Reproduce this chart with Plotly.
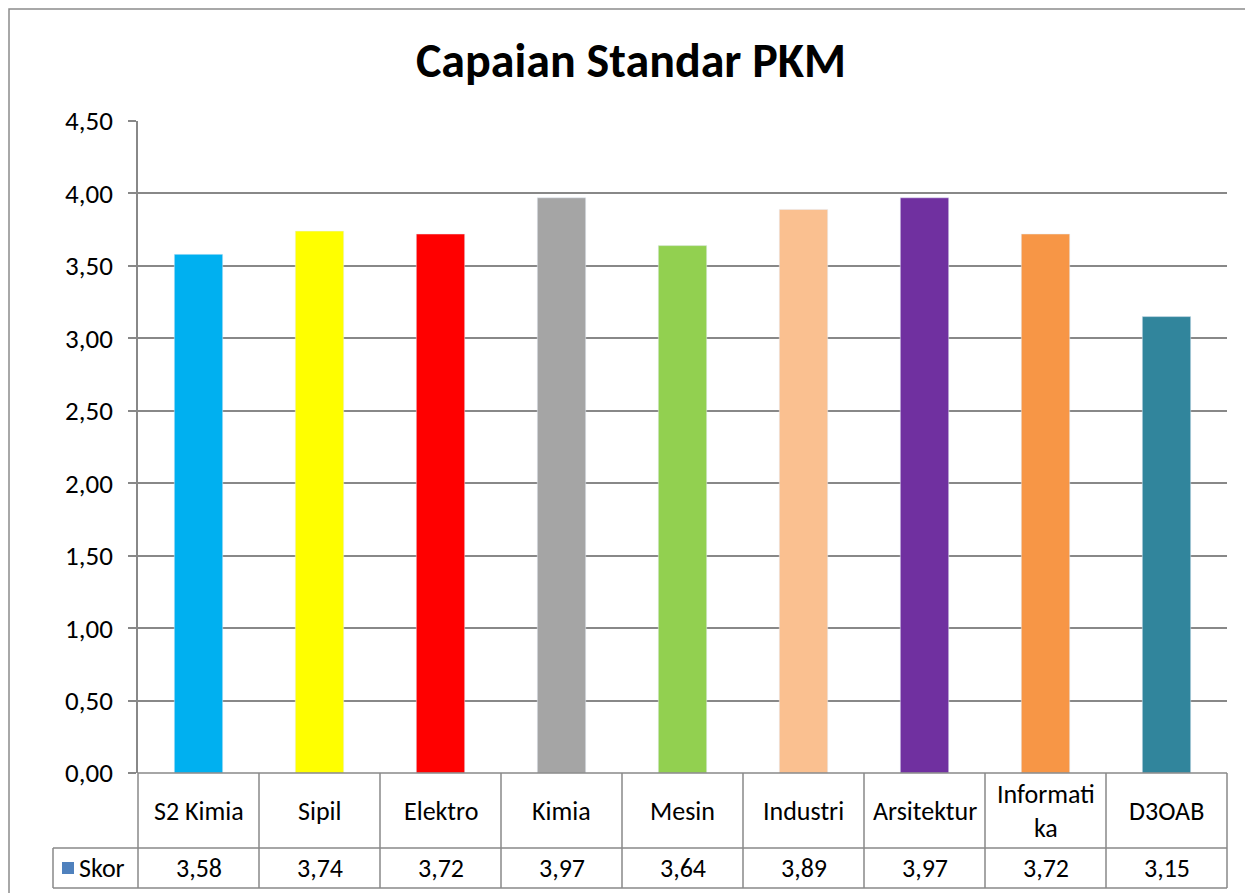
import plotly.graph_objects as go

categories = ["S2 Kimia", "Sipil", "Elektro", "Kimia", "Mesin", "Industri", "Arsitektur", "Informatika", "D3OAB"]
category_labels = ["S2 Kimia", "Sipil", "Elektro", "Kimia", "Mesin", "Industri", "Arsitektur", "Informati<br>ka", "D3OAB"]
skor = [3.58, 3.74, 3.72, 3.97, 3.64, 3.89, 3.97, 3.72, 3.15]
bar_colors = ["#00B0F0", "#FFFF00", "#FF0000", "#A5A5A5", "#92D050", "#FAC090", "#7030A0", "#F79646", "#31859C"]
series_name = "Skor"
y_ticks = [0, 0.5, 1.0, 1.5, 2.0, 2.5, 3.0, 3.5, 4.0, 4.5]

OFF = 8  # page body margin
W, H = 1253 - OFF, 893 - OFF
L, R, T, B = 138 - OFF, 1227 - OFF, 121 - OFF, 773 - OFF
FONT = "Carlito, Calibri, Lato, sans-serif"
FS_TABLE = 26
FS_TICK = 27
GRID = "#888888"

def px(p):
    return (p - OFF - L) / (R - L)

def py(p):
    return (B - (p - OFF)) / (B - T)

fig = go.Figure()
fig.add_trace(go.Bar(
    x=list(range(len(categories))), y=skor, marker_color=bar_colors,
    width=0.4, name=series_name, showlegend=False,
))

shapes = []
shapes.append(dict(type="rect", xref="paper", yref="paper", x0=px(9), x1=px(1300), y0=py(9), y1=py(950),
                   line=dict(color="#8C8C8C", width=1.5)))
row1, row2 = 848, 888
for yy, x0 in ((row1, 53), (row2, 53), (773, 138)):
    shapes.append(dict(type="line", xref="paper", yref="paper", x0=px(x0), x1=px(1227), y0=py(yy), y1=py(yy),
                       line=dict(color=GRID, width=1.5)))
n = len(categories)
for i in range(n + 1):
    xb = i / n
    shapes.append(dict(type="line", xref="paper", yref="paper", x0=xb, x1=xb, y0=0, y1=py(row2),
                       line=dict(color=GRID, width=1.5)))
shapes.append(dict(type="line", xref="paper", yref="paper", x0=px(53), x1=px(53), y0=py(row1), y1=py(row2),
                   line=dict(color=GRID, width=1.5)))
shapes.append(dict(type="rect", xref="paper", yref="paper", x0=px(62), x1=px(74), y0=py(874), y1=py(862),
                   fillcolor="#4F81BD", line=dict(width=0)))

annotations = []
for i, (lab, v) in enumerate(zip(category_labels, skor)):
    xc = (i + 0.5) / n
    annotations.append(dict(xref="paper", yref="paper", x=xc, y=py(810.5), text=lab, showarrow=False,
                            font=dict(family=FONT, size=FS_TABLE, color="#000000"),
                            xanchor="center", yanchor="middle"))
    annotations.append(dict(xref="paper", yref="paper", x=xc, y=py(868), text=f"{v:.2f}".replace(".", ","),
                            showarrow=False, font=dict(family=FONT, size=FS_TABLE, color="#000000"),
                            xanchor="center", yanchor="middle"))
annotations.append(dict(xref="paper", yref="paper", x=px(77), y=py(868), text=series_name, showarrow=False,
                        font=dict(family=FONT, size=FS_TABLE, color="#000000"), xanchor="left", yanchor="middle"))

fig.update_layout(
    width=W, height=H,
    margin=dict(l=L, r=W - R, t=T, b=H - B, pad=0),
    paper_bgcolor="white", plot_bgcolor="white",
    separators=",.",
    title=dict(text="<b>Capaian Standar PKM</b>", x=(631 - OFF) / W, xref="container", xanchor="center",
               y=1 - (60 - OFF) / H, yanchor="middle",
               font=dict(family=FONT, size=48, color="#000000")),
    xaxis=dict(range=[-0.5, n - 0.5], showticklabels=False, showgrid=False, zeroline=False, ticks=""),
    yaxis=dict(range=[0, 4.5], tickvals=y_ticks, tickformat=".2f", showgrid=True, gridcolor=GRID, gridwidth=1.5,
               zeroline=False, showline=True, linecolor=GRID, linewidth=1.5, ticks="outside", ticklen=8,
               ticklabelstandoff=10,
               tickcolor=GRID, tickwidth=1.5, tickfont=dict(family=FONT, size=FS_TICK, color="#000000")),
    shapes=shapes, annotations=annotations, showlegend=False,
)

fig.write_html("out.html")
